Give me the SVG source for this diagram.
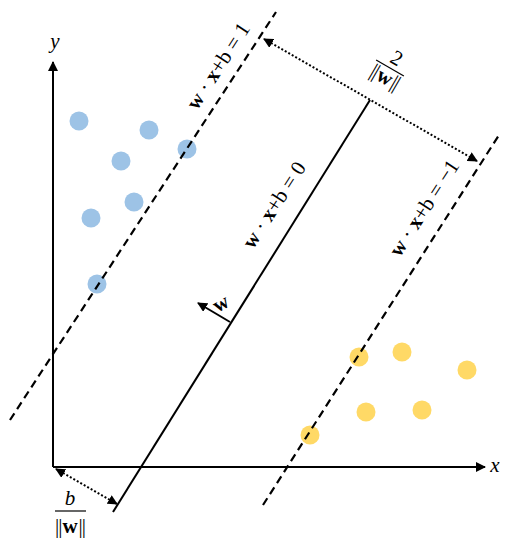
<svg xmlns="http://www.w3.org/2000/svg" width="520" height="550" viewBox="0 0 520 550">
<style>
.ax{stroke:#000;stroke-width:2;fill:none}
.sol{stroke:#000;stroke-width:2;fill:none}
.dash{stroke:#000;stroke-width:2.2;fill:none;stroke-dasharray:8 5}
.dot{stroke:#000;stroke-width:2;fill:none;stroke-dasharray:2 2}
.t{font-family:"Liberation Serif","Times New Roman",serif;font-size:21px;fill:#000}
.b{font-weight:bold}
.i{font-style:italic}
.blue{fill:#9DC3E6}
.yel{fill:#FFD966}
</style>
<defs>
<marker id="ah" viewBox="0 0 10 10" refX="9" refY="5" markerWidth="5" markerHeight="5" orient="auto-start-reverse"><path d="M0,0 L10,5 L0,10 z" fill="#000"/></marker>
<marker id="ahs" viewBox="0 0 10 10" refX="9" refY="5" markerWidth="5" markerHeight="5" orient="auto-start-reverse"><path d="M0,0 L10,5 L0,10 z" fill="#000"/></marker>
</defs>
<g id="axes">
<line class="ax" x1="53" y1="467" x2="53" y2="62" marker-end="url(#ah)"/>
<line class="ax" x1="53" y1="467" x2="485" y2="467" marker-end="url(#ah)"/>
<text class="t i" x="55" y="48" text-anchor="middle" font-size="21">y</text>
<text class="t i" x="495" y="472" text-anchor="middle" font-size="21">x</text>
</g>
<g id="blue-points">
<circle class="blue" cx="79" cy="121" r="9.5"/>
<circle class="blue" cx="149" cy="130" r="9.5"/>
<circle class="blue" cx="121" cy="161" r="9.5"/>
<circle class="blue" cx="187" cy="149" r="9.5"/>
<circle class="blue" cx="91" cy="218" r="9.5"/>
<circle class="blue" cx="134" cy="202" r="9.5"/>
<circle class="blue" cx="97" cy="284" r="9.5"/>
</g>
<g id="yellow-points">
<circle class="yel" cx="359" cy="357" r="9.5"/>
<circle class="yel" cx="402" cy="352" r="9.5"/>
<circle class="yel" cx="467" cy="370" r="9.5"/>
<circle class="yel" cx="366" cy="412" r="9.5"/>
<circle class="yel" cx="422" cy="410" r="9.5"/>
<circle class="yel" cx="310" cy="435" r="9.5"/>
</g>
<g id="connectors">
<line class="dash" x1="10" y1="420" x2="276" y2="12"/>
<line class="sol" x1="113" y1="512" x2="370" y2="100"/>
<line class="dash" x1="263" y1="505" x2="499" y2="135"/>
<line class="dot" x1="264" y1="39" x2="477" y2="161" marker-start="url(#ahs)" marker-end="url(#ahs)"/>
<line class="dot" x1="56" y1="469" x2="117" y2="504" marker-start="url(#ahs)" marker-end="url(#ahs)"/>
<line class="sol" x1="230" y1="322" x2="198" y2="303" marker-end="url(#ah)"/>
</g>
<g id="label-plus1">
<text class="t" transform="translate(218,66) rotate(-57)" y="7" text-anchor="middle"><tspan class="b">w</tspan> · <tspan class="b">x</tspan>+b = 1</text>
</g>
<g id="label-zero">
<text class="t" transform="translate(274,205) rotate(-57)" y="7" text-anchor="middle"><tspan class="b">w</tspan> · <tspan class="b">x</tspan>+b = 0</text>
</g>
<g id="label-minus1">
<text class="t" transform="translate(424,208) rotate(-57)" y="7" text-anchor="middle"><tspan class="b">w</tspan> · <tspan class="b">x</tspan>+b = −1</text>
</g>
<g id="label-w">
<text class="t b" transform="translate(221,304) rotate(-30)" y="6" text-anchor="middle" font-size="19">w</text>
</g>
<g id="label-margin">
<g transform="translate(390,68) rotate(30)">
<text class="t" x="1" y="-5" text-anchor="middle" font-size="20">2</text>
<line x1="-16" y1="0" x2="16" y2="0" stroke="#000" stroke-width="1.2"/>
<text class="t" x="0" y="17" text-anchor="middle" font-size="20" letter-spacing="-1">||<tspan class="b" letter-spacing="0" dx="1">w</tspan><tspan dx="1">||</tspan></text>
</g>
</g>
<g id="label-offset">
<text class="t i" x="70" y="505" text-anchor="middle" font-size="21">b</text>
<line x1="55" y1="511" x2="86" y2="511" stroke="#000" stroke-width="1.2"/>
<text class="t" x="70" y="533" text-anchor="middle" font-size="21" letter-spacing="-1">||<tspan class="b" letter-spacing="0" dx="1">w</tspan><tspan dx="1">||</tspan></text>
</g>
</svg>
